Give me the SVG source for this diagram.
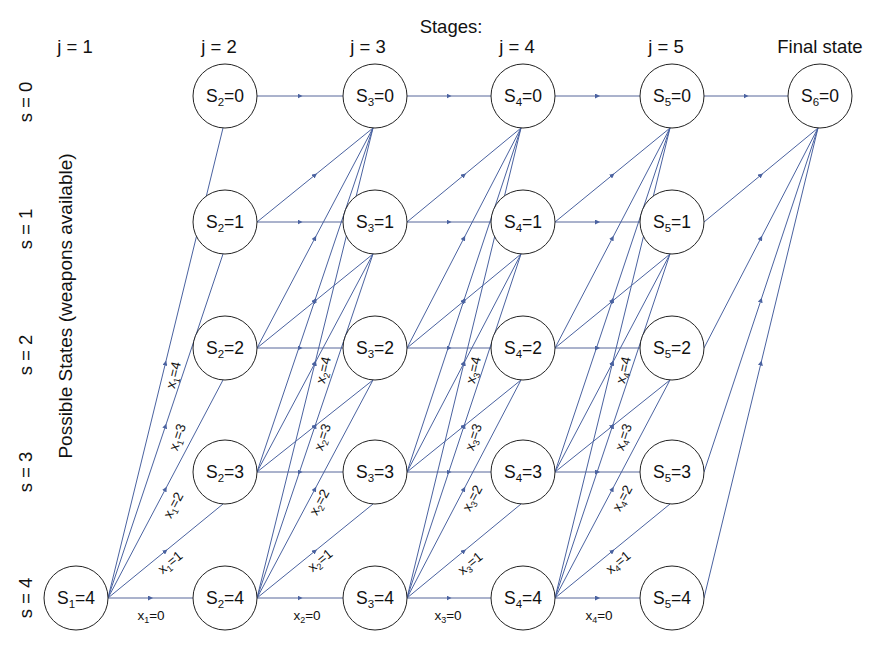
<svg xmlns="http://www.w3.org/2000/svg" width="877" height="646" viewBox="0 0 877 646">
<defs>
<marker id="ar" viewBox="0 0 6 6" refX="3" refY="3" markerWidth="5" markerHeight="5" markerUnits="userSpaceOnUse" orient="auto">
<path d="M0,0 L6,3 L0,6 z" fill="#4a62a0"/>
</marker>
<style>
text{font-family:"Liberation Sans",Arial,sans-serif;fill:#111}
.hd{font-size:18.5px;text-anchor:middle}
.nd circle{fill:#fff;stroke:#222;stroke-width:1}
.nd text{font-size:17.5px;text-anchor:middle}
.sub{font-size:11.5px}
.e path{fill:none;stroke:#4a62a0;stroke-width:1;marker-mid:url(#ar)}
.e path.h{stroke:#56679a}
.lb{font-size:13.5px;text-anchor:middle}
.lsub{font-size:9px}
</style>
</defs>
<rect width="877" height="646" fill="#fff"/>

<g id="headers">
<text class="hd" x="451" y="33">Stages:</text>
<text class="hd" x="75" y="53">j = 1</text>
<text class="hd" x="219" y="53">j = 2</text>
<text class="hd" x="368" y="53">j = 3</text>
<text class="hd" x="517" y="53">j = 4</text>
<text class="hd" x="666" y="53">j = 5</text>
<text class="hd" x="820" y="53">Final state</text>
<text class="hd" transform="translate(32,102) rotate(-90)">s = 0</text>
<text class="hd" transform="translate(32,229) rotate(-90)">s = 1</text>
<text class="hd" transform="translate(32,355) rotate(-90)">s = 2</text>
<text class="hd" transform="translate(32,472) rotate(-90)">s = 3</text>
<text class="hd" transform="translate(32,598) rotate(-90)">s = 4</text>
<text class="hd" style="font-size:19px" transform="translate(72,306) rotate(-90)">Possible States (weapons available)</text>
</g>

<g id="connectors" class="e">
<path class="h" d="M108 598 L150.5 598 L193 598"/>
<path class="h" d="M257 96 L300 96 L343 96"/>
<path class="h" d="M257 222 L300 222 L343 222"/>
<path class="h" d="M257 348 L300 348 L343 348"/>
<path class="h" d="M257 472 L300 472 L343 472"/>
<path class="h" d="M257 598 L300 598 L343 598"/>
<path class="h" d="M407 96 L449 96 L491 96"/>
<path class="h" d="M407 222 L449 222 L491 222"/>
<path class="h" d="M407 348 L449 348 L491 348"/>
<path class="h" d="M407 472 L449 472 L491 472"/>
<path class="h" d="M407 598 L449 598 L491 598"/>
<path class="h" d="M555 96 L597.5 96 L640 96"/>
<path class="h" d="M555 222 L597.5 222 L640 222"/>
<path class="h" d="M555 348 L597.5 348 L640 348"/>
<path class="h" d="M555 472 L597.5 472 L640 472"/>
<path class="h" d="M555 598 L597.5 598 L640 598"/>
<path class="h" d="M704 96 L746 96 L788 96"/>
<path d="M108 598 L165.5 363 L223 128"/>
<path d="M108 598 L165.5 426 L223 254"/>
<path d="M108 598 L165.5 489 L223 380"/>
<path d="M108 598 L165.5 551 L223 504"/>
<path d="M257 222 L315 175 L373 128"/>
<path d="M257 348 L315 238 L373 128"/>
<path d="M257 348 L315 301 L373 254"/>
<path d="M257 472 L315 300 L373 128"/>
<path d="M257 472 L315 363 L373 254"/>
<path d="M257 472 L315 426 L373 380"/>
<path d="M257 598 L315 363 L373 128"/>
<path d="M257 598 L315 426 L373 254"/>
<path d="M257 598 L315 489 L373 380"/>
<path d="M257 598 L315 551 L373 504"/>
<path d="M407 222 L464 175 L521 128"/>
<path d="M407 348 L464 238 L521 128"/>
<path d="M407 348 L464 301 L521 254"/>
<path d="M407 472 L464 300 L521 128"/>
<path d="M407 472 L464 363 L521 254"/>
<path d="M407 472 L464 426 L521 380"/>
<path d="M407 598 L464 363 L521 128"/>
<path d="M407 598 L464 426 L521 254"/>
<path d="M407 598 L464 489 L521 380"/>
<path d="M407 598 L464 551 L521 504"/>
<path d="M555 222 L612.5 175 L670 128"/>
<path d="M555 348 L612.5 238 L670 128"/>
<path d="M555 348 L612.5 301 L670 254"/>
<path d="M555 472 L612.5 300 L670 128"/>
<path d="M555 472 L612.5 363 L670 254"/>
<path d="M555 472 L612.5 426 L670 380"/>
<path d="M555 598 L612.5 363 L670 128"/>
<path d="M555 598 L612.5 426 L670 254"/>
<path d="M555 598 L612.5 489 L670 380"/>
<path d="M555 598 L612.5 551 L670 504"/>
<path d="M704 222 L761 175 L818 128"/>
<path d="M704 348 L761 238 L818 128"/>
<path d="M704 472 L761 300 L818 128"/>
<path d="M704 598 L761 363 L818 128"/>
</g>

<g id="edge-labels">
<text class="lb" x="151" y="620">x<tspan class="lsub" dy="3">1</tspan><tspan dy="-3">=0</tspan></text>
<text class="lb" transform="translate(170,562) rotate(-39)" y="5">x<tspan class="lsub" dy="3">1</tspan><tspan dy="-3">=1</tspan></text>
<text class="lb" transform="translate(173,505) rotate(-62)" y="5">x<tspan class="lsub" dy="3">1</tspan><tspan dy="-3">=2</tspan></text>
<text class="lb" transform="translate(177,437) rotate(-72)" y="5">x<tspan class="lsub" dy="3">1</tspan><tspan dy="-3">=3</tspan></text>
<text class="lb" transform="translate(173,375) rotate(-77)" y="5">x<tspan class="lsub" dy="3">1</tspan><tspan dy="-3">=4</tspan></text>

<text class="lb" x="307" y="620">x<tspan class="lsub" dy="3">2</tspan><tspan dy="-3">=0</tspan></text>
<text class="lb" transform="translate(320,560) rotate(-39)" y="5">x<tspan class="lsub" dy="3">2</tspan><tspan dy="-3">=1</tspan></text>
<text class="lb" transform="translate(319,502) rotate(-62)" y="5">x<tspan class="lsub" dy="3">2</tspan><tspan dy="-3">=2</tspan></text>
<text class="lb" transform="translate(322,437) rotate(-72)" y="5">x<tspan class="lsub" dy="3">2</tspan><tspan dy="-3">=3</tspan></text>
<text class="lb" transform="translate(323,370) rotate(-77)" y="5">x<tspan class="lsub" dy="3">2</tspan><tspan dy="-3">=4</tspan></text>

<text class="lb" x="448" y="620">x<tspan class="lsub" dy="3">3</tspan><tspan dy="-3">=0</tspan></text>
<text class="lb" transform="translate(470,563) rotate(-39)" y="5">x<tspan class="lsub" dy="3">3</tspan><tspan dy="-3">=1</tspan></text>
<text class="lb" transform="translate(472,498) rotate(-62)" y="5">x<tspan class="lsub" dy="3">3</tspan><tspan dy="-3">=2</tspan></text>
<text class="lb" transform="translate(473,437) rotate(-72)" y="5">x<tspan class="lsub" dy="3">3</tspan><tspan dy="-3">=3</tspan></text>
<text class="lb" transform="translate(473,370) rotate(-77)" y="5">x<tspan class="lsub" dy="3">3</tspan><tspan dy="-3">=4</tspan></text>

<text class="lb" x="599" y="620">x<tspan class="lsub" dy="3">4</tspan><tspan dy="-3">=0</tspan></text>
<text class="lb" transform="translate(618,562) rotate(-39)" y="5">x<tspan class="lsub" dy="3">4</tspan><tspan dy="-3">=1</tspan></text>
<text class="lb" transform="translate(622,498) rotate(-62)" y="5">x<tspan class="lsub" dy="3">4</tspan><tspan dy="-3">=2</tspan></text>
<text class="lb" transform="translate(623,437) rotate(-72)" y="5">x<tspan class="lsub" dy="3">4</tspan><tspan dy="-3">=3</tspan></text>
<text class="lb" transform="translate(623,370) rotate(-77)" y="5">x<tspan class="lsub" dy="3">4</tspan><tspan dy="-3">=4</tspan></text>
</g>

<g id="S1_4" class="nd"><circle cx="76" cy="598" r="32"/><text x="76" y="604">S<tspan class="sub" dy="4">1</tspan><tspan dy="-4">=4</tspan></text></g>

<g id="S2_0" class="nd"><circle cx="225" cy="96" r="32"/><text x="225" y="102">S<tspan class="sub" dy="4">2</tspan><tspan dy="-4">=0</tspan></text></g>
<g id="S2_1" class="nd"><circle cx="225" cy="222" r="32"/><text x="225" y="228">S<tspan class="sub" dy="4">2</tspan><tspan dy="-4">=1</tspan></text></g>
<g id="S2_2" class="nd"><circle cx="225" cy="348" r="32"/><text x="225" y="354">S<tspan class="sub" dy="4">2</tspan><tspan dy="-4">=2</tspan></text></g>
<g id="S2_3" class="nd"><circle cx="225" cy="472" r="32"/><text x="225" y="478">S<tspan class="sub" dy="4">2</tspan><tspan dy="-4">=3</tspan></text></g>
<g id="S2_4" class="nd"><circle cx="225" cy="598" r="32"/><text x="225" y="604">S<tspan class="sub" dy="4">2</tspan><tspan dy="-4">=4</tspan></text></g>

<g id="S3_0" class="nd"><circle cx="375" cy="96" r="32"/><text x="375" y="102">S<tspan class="sub" dy="4">3</tspan><tspan dy="-4">=0</tspan></text></g>
<g id="S3_1" class="nd"><circle cx="375" cy="222" r="32"/><text x="375" y="228">S<tspan class="sub" dy="4">3</tspan><tspan dy="-4">=1</tspan></text></g>
<g id="S3_2" class="nd"><circle cx="375" cy="348" r="32"/><text x="375" y="354">S<tspan class="sub" dy="4">3</tspan><tspan dy="-4">=2</tspan></text></g>
<g id="S3_3" class="nd"><circle cx="375" cy="472" r="32"/><text x="375" y="478">S<tspan class="sub" dy="4">3</tspan><tspan dy="-4">=3</tspan></text></g>
<g id="S3_4" class="nd"><circle cx="375" cy="598" r="32"/><text x="375" y="604">S<tspan class="sub" dy="4">3</tspan><tspan dy="-4">=4</tspan></text></g>

<g id="S4_0" class="nd"><circle cx="523" cy="96" r="32"/><text x="523" y="102">S<tspan class="sub" dy="4">4</tspan><tspan dy="-4">=0</tspan></text></g>
<g id="S4_1" class="nd"><circle cx="523" cy="222" r="32"/><text x="523" y="228">S<tspan class="sub" dy="4">4</tspan><tspan dy="-4">=1</tspan></text></g>
<g id="S4_2" class="nd"><circle cx="523" cy="348" r="32"/><text x="523" y="354">S<tspan class="sub" dy="4">4</tspan><tspan dy="-4">=2</tspan></text></g>
<g id="S4_3" class="nd"><circle cx="523" cy="472" r="32"/><text x="523" y="478">S<tspan class="sub" dy="4">4</tspan><tspan dy="-4">=3</tspan></text></g>
<g id="S4_4" class="nd"><circle cx="523" cy="598" r="32"/><text x="523" y="604">S<tspan class="sub" dy="4">4</tspan><tspan dy="-4">=4</tspan></text></g>

<g id="S5_0" class="nd"><circle cx="672" cy="96" r="32"/><text x="672" y="102">S<tspan class="sub" dy="4">5</tspan><tspan dy="-4">=0</tspan></text></g>
<g id="S5_1" class="nd"><circle cx="672" cy="222" r="32"/><text x="672" y="228">S<tspan class="sub" dy="4">5</tspan><tspan dy="-4">=1</tspan></text></g>
<g id="S5_2" class="nd"><circle cx="672" cy="348" r="32"/><text x="672" y="354">S<tspan class="sub" dy="4">5</tspan><tspan dy="-4">=2</tspan></text></g>
<g id="S5_3" class="nd"><circle cx="672" cy="472" r="32"/><text x="672" y="478">S<tspan class="sub" dy="4">5</tspan><tspan dy="-4">=3</tspan></text></g>
<g id="S5_4" class="nd"><circle cx="672" cy="598" r="32"/><text x="672" y="604">S<tspan class="sub" dy="4">5</tspan><tspan dy="-4">=4</tspan></text></g>

<g id="S6_0" class="nd"><circle cx="820" cy="96" r="32"/><text x="820" y="102">S<tspan class="sub" dy="4">6</tspan><tspan dy="-4">=0</tspan></text></g>
</svg>
